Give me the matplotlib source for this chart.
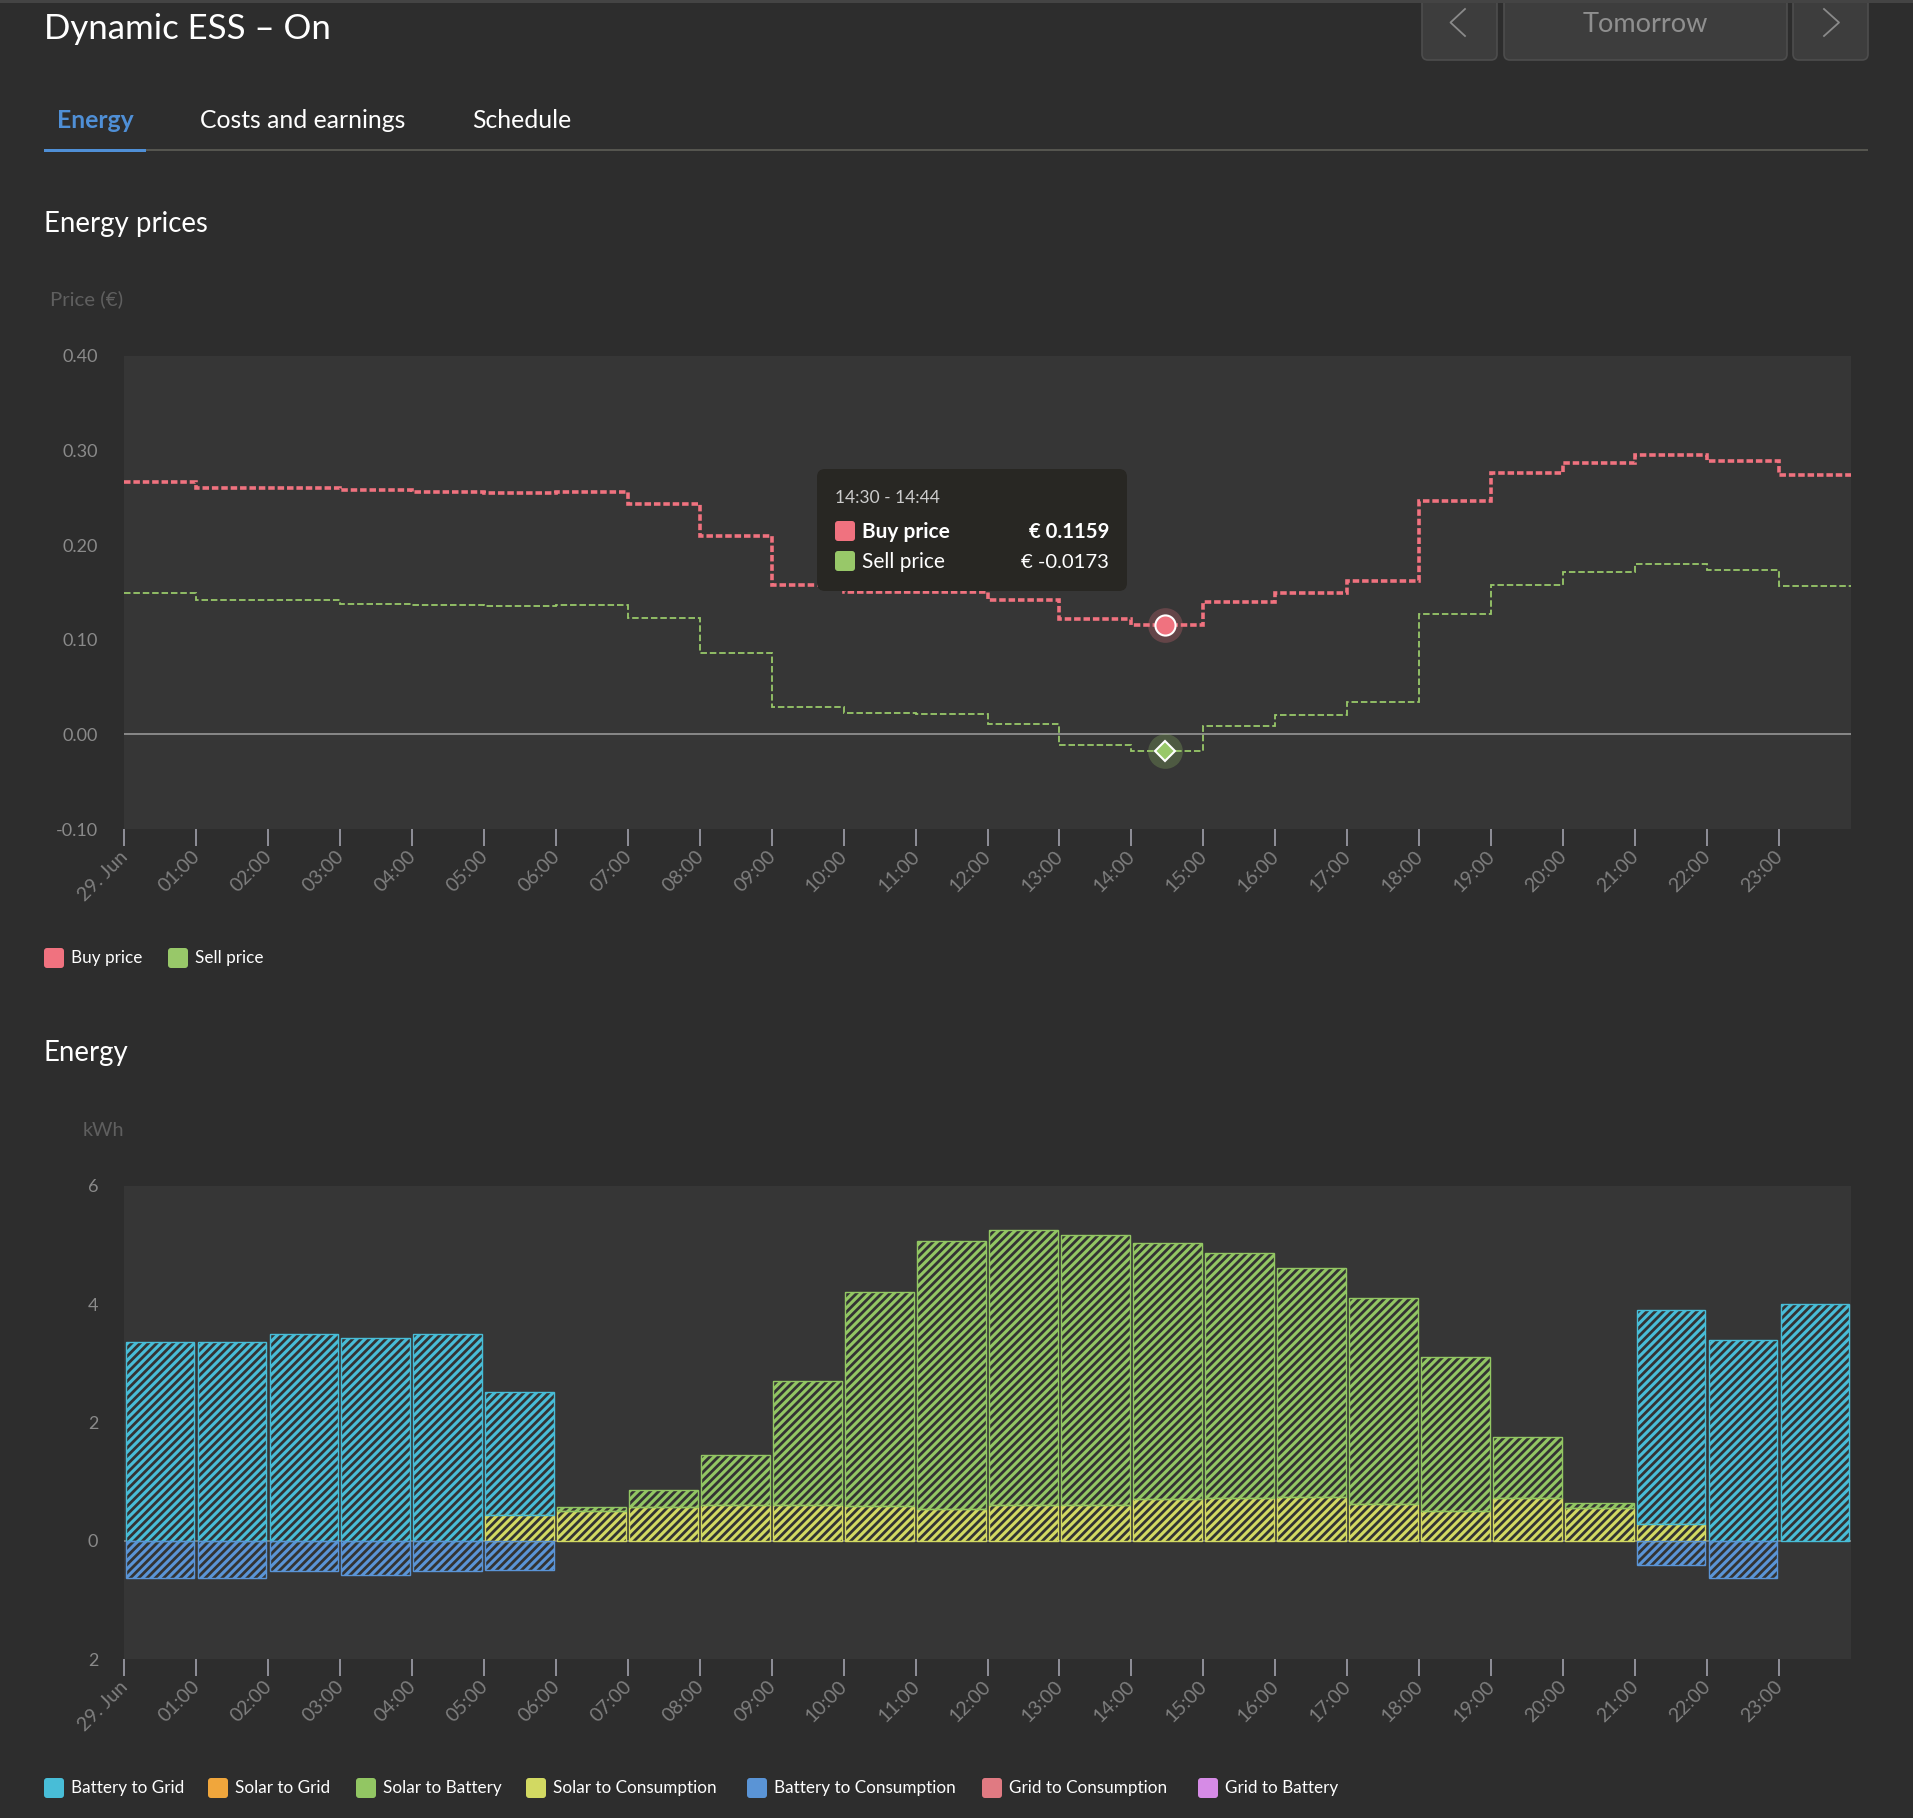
import numpy as np
import matplotlib
matplotlib.use("Agg")
import matplotlib.pyplot as plt
from matplotlib.patches import FancyBboxPatch, Rectangle
from matplotlib.transforms import ScaledTranslation

plt.rcParams["font.family"] = ["Lato", "DejaVu Sans"]
plt.rcParams["hatch.linewidth"] = 2.0

# hourly data
hours = np.arange(24)
edges = np.arange(25)
tick_labels = ["29. Jun"] + ["%02d:00" % h for h in range(1, 24)]

buy_price = [0.267, 0.260, 0.260, 0.258, 0.256, 0.255, 0.256, 0.2435, 0.210, 0.158, 0.1507, 0.1507,
             0.1416, 0.1222, 0.1159, 0.140, 0.150, 0.1617, 0.2468, 0.2764, 0.2874, 0.2957, 0.2893, 0.2745]
sell_price = [0.149, 0.142, 0.1424, 0.138, 0.1366, 0.136, 0.137, 0.123, 0.0857, 0.0293, 0.0227, 0.0215,
              0.0113, -0.011, -0.0173, 0.0092, 0.020, 0.034, 0.127, 0.158, 0.172, 0.180, 0.174, 0.1566]

solar_to_consumption = [0, 0, 0, 0, 0, 0.44, 0.50, 0.57, 0.60, 0.60, 0.58, 0.54,
                        0.60, 0.60, 0.70, 0.72, 0.74, 0.63, 0.50, 0.72, 0.56, 0.28, 0, 0]
solar_to_battery = [0, 0, 0, 0, 0, 0, 0.07, 0.28, 0.85, 2.10, 3.63, 4.53,
                    4.66, 4.57, 4.34, 4.15, 3.88, 3.48, 2.60, 1.04, 0.08, 0, 0, 0]
battery_to_grid = [3.36, 3.36, 3.49, 3.43, 3.49, 2.08, 0, 0, 0, 0, 0, 0,
                   0, 0, 0, 0, 0, 0, 0, 0, 0, 3.62, 3.39, 4.00]
battery_to_consumption = [-0.63, -0.63, -0.52, -0.58, -0.52, -0.49, 0, 0, 0, 0, 0, 0,
                          0, 0, 0, 0, 0, 0, 0, 0, 0, -0.41, -0.63, 0]

price_legend = ["Buy price", "Sell price"]
energy_legend = ["Battery to Grid", "Solar to Grid", "Solar to Battery", "Solar to Consumption",
                 "Battery to Consumption", "Grid to Consumption", "Grid to Battery"]

BG = "#2d2d2d"
PLOT_BG = "#363636"
BUY = "#f0727f"
SELL = "#98c869"
energy_colors = ["#48bdd7", "#f0a63c", "#92c663", "#d2d962", "#5a94d6", "#e07a82", "#d68be6"]

W, H = 1913, 1818
fig = plt.figure(figsize=(W / 100, H / 100), dpi=100, facecolor=BG)


def px_axes(x0, y0, x1, y1, **kw):
    return fig.add_axes([x0 / W, 1 - y1 / H, (x1 - x0) / W, (y1 - y0) / H], **kw)


def style_axis(ax):
    ax.set_facecolor(PLOT_BG)
    ax.set_xlim(0, 24)
    for s in ax.spines.values():
        s.set_visible(False)
    ax.set_xticks(hours)
    ax.set_xticklabels(tick_labels, rotation=45, ha="right", va="top", rotation_mode="anchor",
                       color="#7f7f7f", fontsize=14)
    ax.tick_params(axis="x", length=12, width=1.1, color="#a9a9b5", pad=1.5)
    ax.tick_params(axis="y", length=0, pad=18.5, labelcolor="#8a8a8a", labelsize=13)
    shift = ScaledTranslation(-5 / 100, 0, fig.dpi_scale_trans)
    for lab in ax.get_xticklabels():
        lab.set_transform(lab.get_transform() + shift)


# prices
ax1 = px_axes(124, 356, 1851, 829)
style_axis(ax1)
ax1.set_ylim(-0.10, 0.40)
ax1.set_yticks([-0.10, 0, 0.10, 0.20, 0.30, 0.40])
ax1.set_yticklabels(["-0.10", "0.00", "0.10", "0.20", "0.30", "0.40"])
ax1.axhline(0, color="#8f8f8f", lw=1.3, zorder=1)
ax1.stairs(buy_price, edges, baseline=None, color=BUY, lw=2.6, linestyle=(0, (1.8, 0.8)), zorder=3)
ax1.stairs(sell_price, edges, baseline=None, color=SELL, lw=1.3, linestyle=(0, (3.6, 1.6)), zorder=3)

hover = 14
hover_x = hover + 0.47
ax1.plot(hover_x, buy_price[hover], "o", ms=25, color=BUY, alpha=0.25, mew=0, zorder=4, clip_on=False)
ax1.plot(hover_x, buy_price[hover], "o", ms=14.5, color=BUY, mec="white", mew=1.5, zorder=5)
ax1.plot(hover_x, sell_price[hover], "o", ms=25, color=SELL, alpha=0.25, mew=0, zorder=4)
ax1.plot(hover_x, sell_price[hover], "D", ms=10.5, color=SELL, mec="white", mew=1.5, zorder=5)

# energy
ax2 = px_axes(124, 1186, 1851, 1659)
style_axis(ax2)
ax2.set_ylim(-2, 6)
ax2.set_yticks([-2, 0, 2, 4, 6])
ax2.set_yticklabels(["2", "0", "2", "4", "6"])
ax2.axhline(0, color="#7d7d7d", lw=1.3, zorder=1)


def hatched_bars(values, bottom, color):
    values = np.array(values, dtype=float)
    bottom = np.array(bottom, dtype=float)
    keep = values != 0
    x = hours[keep] + 0.5
    ax2.bar(x, values[keep], 0.955, bottom[keep], color=color, edgecolor="#333333", hatch="////", lw=0, zorder=2)
    ax2.bar(x, values[keep], 0.955, bottom[keep], fill=False, edgecolor=color, lw=1.0, zorder=3)


base = np.zeros(24)
hatched_bars(solar_to_consumption, base, energy_colors[3])
base = base + solar_to_consumption
hatched_bars(solar_to_battery, base, energy_colors[2])
base = base + solar_to_battery
hatched_bars(battery_to_grid, base, energy_colors[0])
hatched_bars(battery_to_consumption, np.zeros(24), energy_colors[4])

# page furniture drawn in pixel coordinates on top of the charts
ui = fig.add_axes([0, 0, 1, 1], zorder=10)
ui.set_xlim(0, W)
ui.set_ylim(H, 0)
ui.axis("off")


def rbox(x0, y0, x1, y1, fc, ec="none", r=3, lw=1, z=2):
    ui.add_patch(FancyBboxPatch((x0 + r, y0 + r), x1 - x0 - 2 * r, y1 - y0 - 2 * r,
                                boxstyle="round,pad=%g,rounding_size=%g" % (r, r),
                                fc=fc, ec=ec, lw=lw, zorder=z))


def label(x, y, s, size, color="white", ha="left", **kw):
    ui.text(x, y, s, fontsize=size, color=color, ha=ha, va="center", zorder=5, **kw)


ui.add_patch(Rectangle((0, 0), W, 3, fc="#444444", ec="none"))
for x0, x1 in [(1422, 1497), (1504, 1787), (1793, 1868)]:
    rbox(x0, -10, x1, 60, "#3d3d3d", "#4d4d4d", r=6, lw=1.2)
ui.add_patch(Rectangle((1415, 0), 460, 3, fc="#444444", ec="none", zorder=3))
ui.plot([1465, 1450.5, 1465], [9, 22.5, 36], color="#8a8a8a", lw=1.3, zorder=4)
ui.plot([1824, 1839, 1824], [9, 22.5, 36], color="#8a8a8a", lw=1.3, zorder=4)
label(1645.5, 25, "Tomorrow", 19.5, color="#8f8f8f", ha="center")

label(44, 29, "Dynamic ESS – On", 25)
label(57, 120, "Energy", 17.8, color="#4f8fd6", fontweight="bold")
label(200, 120, "Costs and earnings", 17.8)
label(472, 120, "Schedule", 17.8)
ui.add_patch(Rectangle((44, 149), 1824, 2, fc="#55554f", ec="none"))
ui.add_patch(Rectangle((44, 149), 102, 3, fc="#4f8fd6", ec="none", zorder=3))

label(44, 224, "Energy prices", 19.9)
label(123, 299, "Price (€)", 14.7, color="#5f5f5f", ha="right")
label(44, 1053, "Energy", 19.9)
label(124, 1130, "kWh", 14.2, color="#5f5f5f", ha="right")

for name, c, x in zip(price_legend, [BUY, SELL], [44, 168]):
    rbox(x, 948, x + 20, 968, c)
    label(x + 27, 958, name, 12.3)
for name, c, x in zip(energy_legend, energy_colors, [44, 208, 356, 526, 747, 982, 1198]):
    rbox(x, 1778, x + 20, 1798, c)
    label(x + 27, 1788, name, 12.3)

# tooltip
rbox(817, 469, 1127, 591, "#282723", r=8, z=6)
ui.text(835, 498, "14:30 - 14:44", fontsize=12.5, color="#cccccc", va="center", zorder=7)
for name, val, c, y, fw in [(price_legend[0], buy_price[hover], BUY, 531, "bold"),
                            (price_legend[1], sell_price[hover], SELL, 561, "normal")]:
    rbox(835, y - 10, 855, y + 10, c, z=7)
    ui.text(862, y + 1, name, fontsize=15, color="white", va="center", fontweight=fw, zorder=7)
    ui.text(1109, y + 1, "€ %.4f" % val, fontsize=14.6, color="white", va="center", ha="right", fontweight=fw, zorder=7)

fig.savefig("out.png", dpi=100, facecolor=BG)
